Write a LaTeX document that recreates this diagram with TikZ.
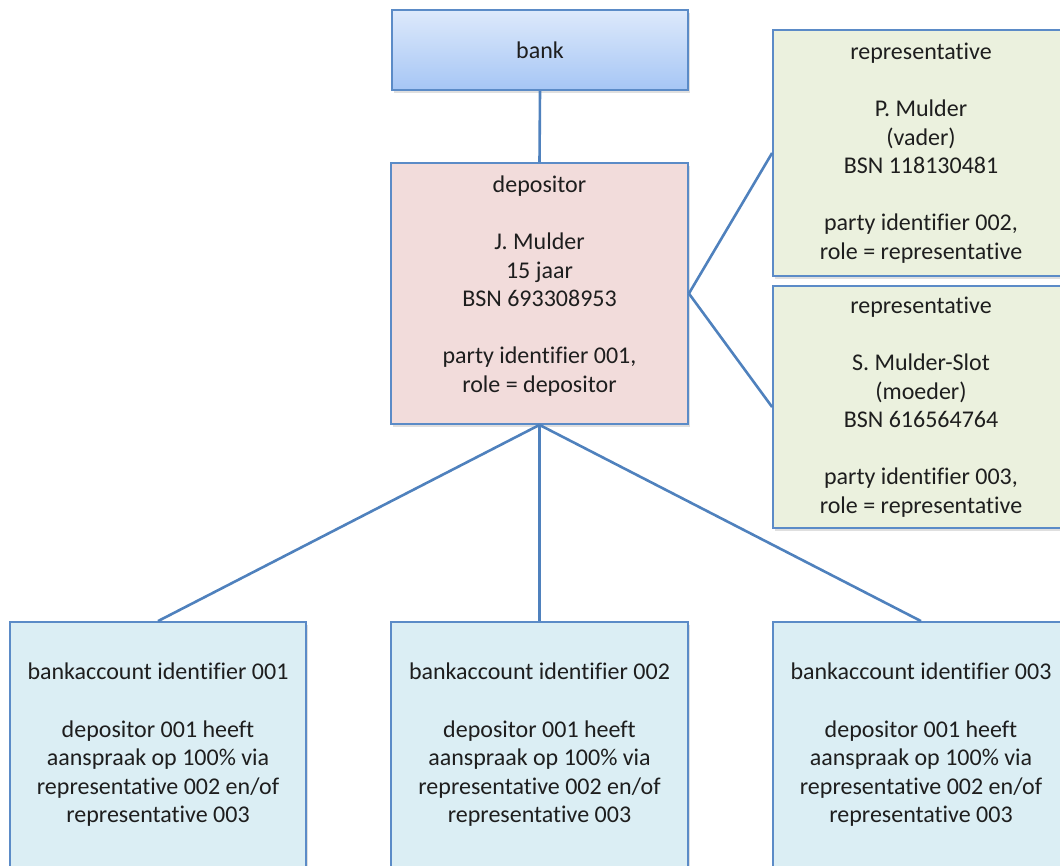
\documentclass[tikz,border=0pt]{standalone}
\usepackage{fontspec}
\setmainfont{Carlito}[Ligatures=NoCommon]
\usetikzlibrary{shadows}

\definecolor{linkblue}{RGB}{79,129,189}
\definecolor{boxline}{RGB}{91,139,199}
\definecolor{ink}{RGB}{30,30,30}
\definecolor{bankTop}{RGB}{221,233,251}
\definecolor{bankBot}{RGB}{166,198,245}
\definecolor{depFill}{RGB}{242,220,219}
\definecolor{repFill}{RGB}{235,241,222}
\definecolor{accFill}{RGB}{219,238,244}

\tikzset{
  boxfont/.style={font=\fontsize{24}{28.6}\selectfont, text=ink},
  box/.style={rectangle, draw=boxline, line width=1.8pt, inner sep=0pt,
    align=center, boxfont,
    drop shadow={shadow xshift=1.5pt, shadow yshift=-2.5pt, opacity=0.25}},
  bankbox/.style={box, top color=bankTop, bottom color=bankBot},
  depbox/.style={box, fill=depFill},
  repbox/.style={box, fill=repFill},
  accbox/.style={box, fill=accFill},
  txt/.style={inner sep=0pt, align=center, boxfont},
  link/.style={draw=linkblue, line width=2.6pt},
}

\begin{document}
\begin{tikzpicture}[x=1pt, y=-1pt]
  \useasboundingbox (0,0) rectangle (1060,865);
  \clip (0,0) rectangle (1060,865);

  % top of the hierarchy
  \node[bankbox, minimum width=296, minimum height=80] (bank) at (540,50) {bank};

  % the depositor
  \node[depbox, minimum width=297, minimum height=261] (dep) at (539.5,293.5) {};
  \node[txt] (deptext) at (539.5,286)
    {depositor\\[28.6pt]J. Mulder\\15 jaar\\BSN 693308953\\[28.6pt]party identifier 001,\\role = depositor};

  % the two representatives
  \node[repbox, minimum width=296, minimum height=246] (rep1) at (921,153)
    {representative\\[28.6pt]P. Mulder\\(vader)\\BSN 118130481\\[28.6pt]party identifier 002,\\role = representative};
  \node[repbox, minimum width=296, minimum height=242] (rep2) at (921,407)
    {representative\\[28.6pt]S. Mulder-Slot\\(moeder)\\BSN 616564764\\[28.6pt]party identifier 003,\\role = representative};

  % the bank accounts
  \node[accbox, minimum width=296, minimum height=246] (acc1) at (158,745)
    {bankaccount identifier 001\\[28.6pt]depositor 001 heeft\\aanspraak op 100\% via\\representative 002 en/of\\representative 003};
  \node[accbox, minimum width=297, minimum height=246] (acc2) at (539.5,745)
    {bankaccount identifier 002\\[28.6pt]depositor 001 heeft\\aanspraak op 100\% via\\representative 002 en/of\\representative 003};
  \node[accbox, minimum width=296, minimum height=246] (acc3) at (921,745)
    {bankaccount identifier 003\\[28.6pt]depositor 001 heeft\\aanspraak op 100\% via\\representative 002 en/of\\representative 003};

  % connectors
  \draw[link] (bank.south) -- (dep.north);
  \draw[link] (dep.east) -- (rep1.west);
  \draw[link] (dep.east) -- (rep2.west);
  \draw[link] (dep.south) -- (acc1.north);
  \draw[link] (dep.south) -- (acc2.north);
  \draw[link] (dep.south) -- (acc3.north);
\end{tikzpicture}
\end{document}
